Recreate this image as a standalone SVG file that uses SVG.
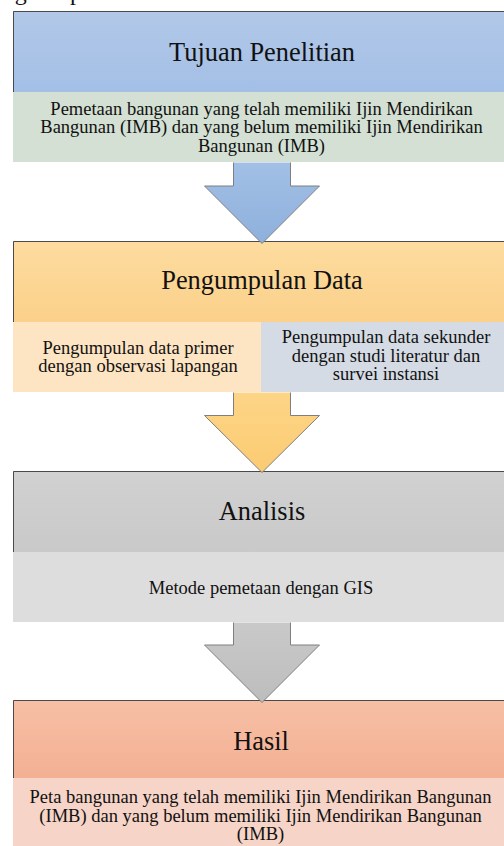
<svg xmlns="http://www.w3.org/2000/svg" width="504" height="846" viewBox="0 0 504 846">
<defs>
<linearGradient id="gBlue" x1="0" y1="0" x2="0" y2="1"><stop offset="0" stop-color="#b1c8e8"/><stop offset="1" stop-color="#a4bfe6"/></linearGradient>
<linearGradient id="gOrange" x1="0" y1="0" x2="0" y2="1"><stop offset="0" stop-color="#fddc9f"/><stop offset="1" stop-color="#fbd08a"/></linearGradient>
<linearGradient id="gGray" x1="0" y1="0" x2="0" y2="1"><stop offset="0" stop-color="#d1d1d1"/><stop offset="1" stop-color="#c9c9c9"/></linearGradient>
<linearGradient id="gRed" x1="0" y1="0" x2="0" y2="1"><stop offset="0" stop-color="#f7bfa5"/><stop offset="1" stop-color="#f3b093"/></linearGradient>
<linearGradient id="aBlue" x1="0" y1="0" x2="0" y2="1"><stop offset="0" stop-color="#a2c0e6"/><stop offset="1" stop-color="#8eb0dc"/></linearGradient>
<linearGradient id="aOrange" x1="0" y1="0" x2="0" y2="1"><stop offset="0" stop-color="#fdd587"/><stop offset="1" stop-color="#fbcb72"/></linearGradient>
<linearGradient id="aGray" x1="0" y1="0" x2="0" y2="1"><stop offset="0" stop-color="#c9c9c9"/><stop offset="1" stop-color="#bdbdbd"/></linearGradient>
</defs>
<style>
text{font-family:'Liberation Serif',serif;fill:#111}
.title{font-size:26.4px;text-anchor:middle}
.sub{font-size:18.5px;text-anchor:middle}
.edge{stroke:#4a4a4a;stroke-width:1;fill:none}
.arrow{stroke:#7f7f7f;stroke-width:1;stroke-linejoin:miter}
</style>
<rect width="504" height="846" fill="#ffffff"/>
<text x="-20" y="-0.5" font-size="24">Diagram penelitian</text>

<g id="tujuan">
<rect x="13" y="11" width="500" height="81" fill="url(#gBlue)"/>
<rect x="13" y="92" width="500" height="70" fill="#d3e0d3"/>
<path class="edge" d="M13.5 92 V11.5 H504"/>
<text class="title" x="262" y="61">Tujuan Penelitian</text>
<text class="sub" x="261.5" y="115">Pemetaan bangunan yang telah memiliki Ijin Mendirikan</text>
<text class="sub" x="261.5" y="133.3">Bangunan (IMB) dan yang belum memiliki Ijin Mendirikan</text>
<text class="sub" x="261.5" y="151.6">Bangunan (IMB)</text>
</g>

<g id="pengumpulan">
<rect x="13" y="241" width="500" height="81" fill="url(#gOrange)"/>
<rect x="13" y="322" width="248" height="70" fill="#fde4c3"/>
<rect x="261" y="322" width="252" height="70" fill="#d5dbe4"/>
<path class="edge" d="M13.5 322 V241.5 H504"/>
<text class="title" x="262" y="289">Pengumpulan Data</text>
<text class="sub" x="138" y="354">Pengumpulan data primer</text>
<text class="sub" x="138" y="372.3">dengan observasi lapangan</text>
<text class="sub" x="386" y="343">Pengumpulan data sekunder</text>
<text class="sub" x="386" y="361.6">dengan studi literatur dan</text>
<text class="sub" x="386" y="380.2">survei instansi</text>
</g>

<g id="analisis">
<rect x="13" y="471" width="500" height="81" fill="url(#gGray)"/>
<rect x="13" y="552" width="500" height="70" fill="#dddddd"/>
<path class="edge" d="M13.5 552 V471.5 H504"/>
<text class="title" x="262" y="519.5">Analisis</text>
<text class="sub" x="261" y="593.5">Metode pemetaan dengan GIS</text>
</g>

<g id="hasil">
<rect x="13" y="700" width="500" height="78" fill="url(#gRed)"/>
<rect x="13" y="778" width="500" height="68" fill="#f6d4c7"/>
<path class="edge" d="M13.5 778 V700.5 H504"/>
<text class="title" x="261" y="750">Hasil</text>
<text class="sub" x="260.5" y="803.3">Peta bangunan yang telah memiliki Ijin Mendirikan Bangunan</text>
<text class="sub" x="260.5" y="821.6">(IMB) dan yang belum memiliki Ijin Mendirikan Bangunan</text>
<text class="sub" x="260.5" y="840">(IMB)</text>
</g>

<g id="connectors">
<path class="arrow" fill="url(#aBlue)" d="M233.5 162.5 V186 H204.5 L262 243.5 L319.5 186 H290.5 V162.5"/>
<path class="arrow" fill="url(#aOrange)" d="M233.5 392.5 V415.5 H204.5 L262 472.5 L319.5 415.5 H290.5 V392.5"/>
<path class="arrow" fill="url(#aGray)" d="M233.5 622.5 V645 H204.5 L262 702.5 L319.5 645 H290.5 V622.5"/>
</g>
</svg>
